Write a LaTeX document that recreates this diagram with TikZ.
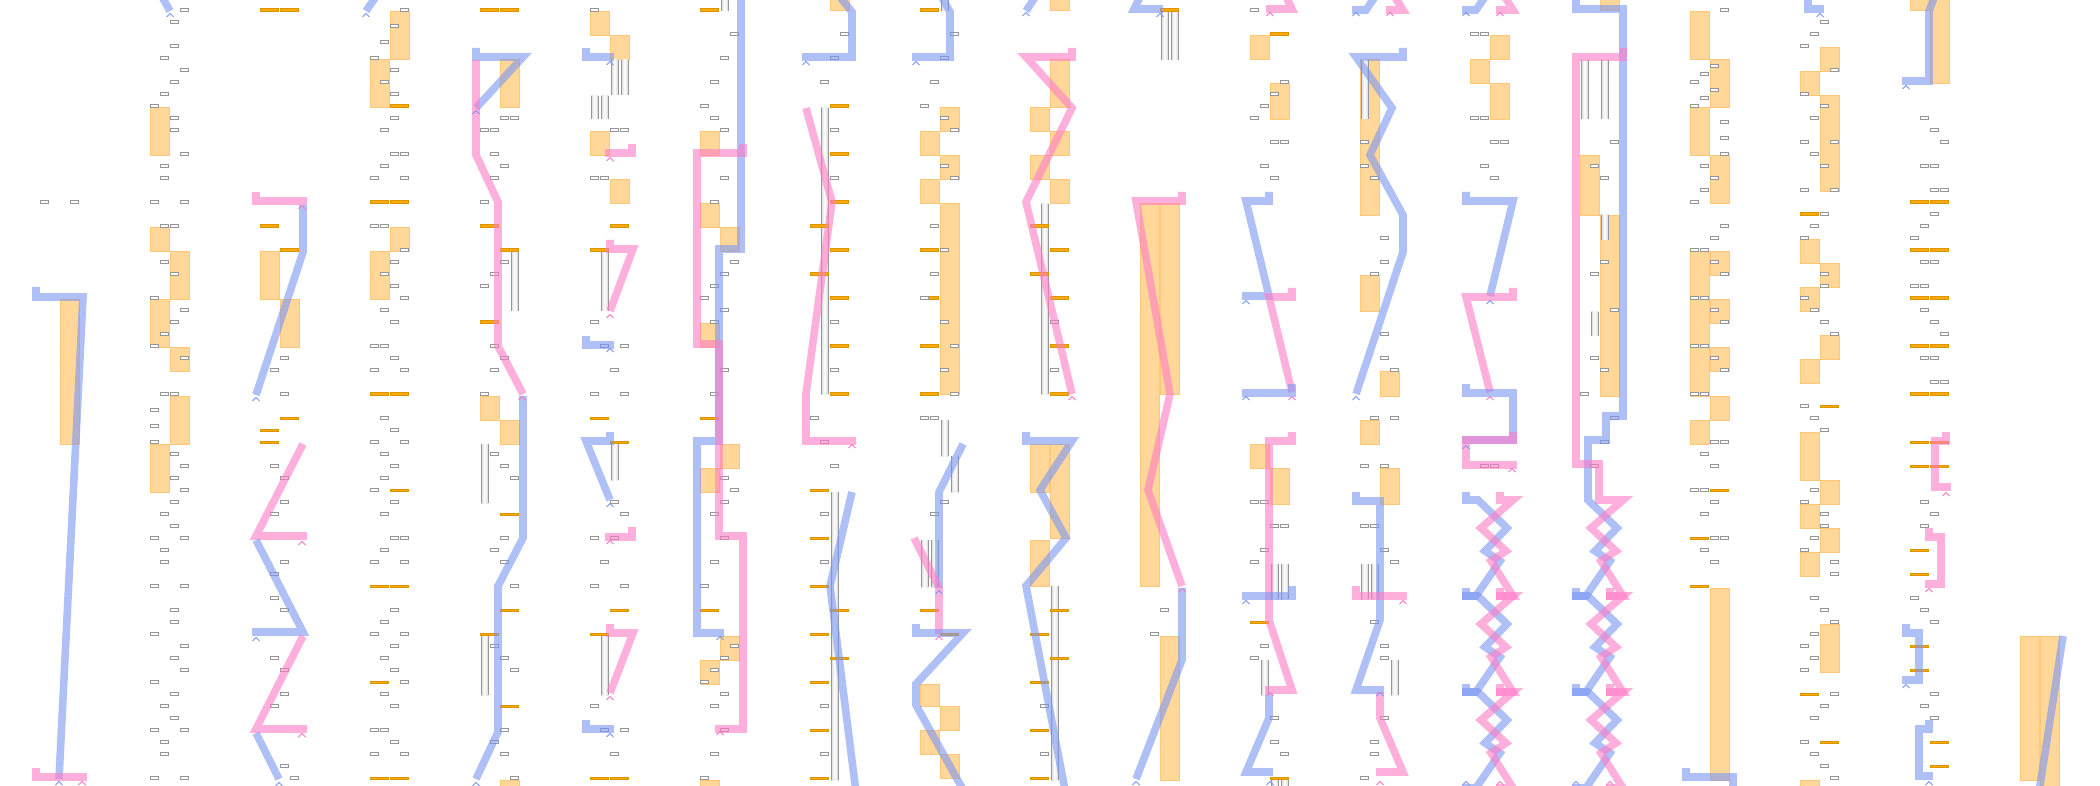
\documentclass[tikz,border=0pt]{standalone}
\definecolor{bluec}{RGB}{123,150,243}
\definecolor{pinkc}{RGB}{255,123,197}
\definecolor{bluech}{RGB}{120,150,245}
\definecolor{pinkch}{RGB}{245,120,195}
\definecolor{olfill}{RGB}{247,170,10}
\definecolor{oldraw}{RGB}{222,148,0}
\definecolor{obfill}{RGB}{255,216,153}
\definecolor{obdraw}{RGB}{255,200,120}
\definecolor{boxdraw}{RGB}{150,150,150}
\tikzset{
 boxst/.style={draw=boxdraw, fill=white, line width=0.45pt},
 olst/.style={draw=oldraw, fill=olfill, line width=0.3pt},
 obst/.style={draw=obdraw, fill=obfill, line width=0.5pt},
 gbside/.style={draw=boxdraw, line width=0.5pt},
 bp/.style={draw=bluec, line width=3.8pt, opacity=0.6, line join=miter, miter limit=4},
 pp/.style={draw=pinkc, line width=3.8pt, opacity=0.6, line join=miter, miter limit=4},
 bch/.style={draw=bluech, line width=0.5pt},
 pch/.style={draw=pinkch, line width=0.5pt},
}
\newcommand\zzb[2]{\draw[bp] (#1-4,#2)--(#1-4,#2+8)--(#1+8,#2+8)--(#1+37,#2+36)--(#1+15,#2+59)--(#1+30,#2+69)--(#1+6,#2+104)--(#1-8,#2+104);}
\newcommand\zzp[2]{\draw[pp] (#1+30,#2)--(#1+30,#2+8)--(#1+43,#2+8)--(#1+11,#2+36)--(#1+36,#2+59)--(#1+21,#2+69)--(#1+43,#2+104)--(#1+26,#2+104);}
\begin{document}
\begin{tikzpicture}[x=0.5pt,y=-0.5pt]
\useasboundingbox (0,0) rectangle (2100,786);
\fill[white] (0,0) rectangle (2100,786);
\clip (0,0) rectangle (2100,786);
% orange blocks
\foreach \x/\a/\b in {60/300/444,
150/108/156,150/228/252,170/252/300,150/300/348,170/348/372,170/396/444,150/444/492,
260/252/300,280/300/348,
390/12/60,370/60/108,390/228/252,370/252/300,
500/60/108,480/396/420,500/420/444,500/780/790,
590/12/36,610/36/60,590/132/156,610/180/204,
700/132/156,700/204/228,720/228/252,700/324/348,720/444/468,700/468/492,720/636/660,700/660/684,700/780/790,
830/-5/11,
940/108/132,920/132/156,940/156/180,920/180/204,940/204/394,920/684/706,940/706/730,920/730/754,940/754/778,
1050/-5/11,1050/60/108,1030/108/132,1050/132/156,1030/156/180,1050/180/204,1030/444/492,1050/444/538,1030/540/586,
1140/204/586,1160/204/394,1160/636/780,
1250/36/60,1270/84/120,1250/444/468,1270/468/504,
1360/60/216,1360/276/312,1380/372/396,1360/420/444,1380/468/504,
1490/36/60,1470/60/84,1490/84/120,
1600/-5/11,1580/156/216,1600/216/396,
1690/12/60,1710/60/108,1690/108/156,1710/156/204,1690/252/396,1710/252/276,1710/300/324,1710/348/372,1710/396/420,1690/420/444,1710/588/780,
1820/48/72,1800/72/96,1820/96/192,1800/240/264,1820/264/288,1800/288/312,1820/336/360,1800/360/384,1800/432/480,1820/480/504,1800/504/528,1820/528/552,1800/552/576,1820/624/672,1800/780/790,
1910/-5/11,1930/-5/84,
2020/636/780,2040/636/790}
 \draw[obst] (\x,\a) rectangle (\x+19,\b);
% grey bars
\foreach \x/\a/\b in {511/252/311,481/444/503,481/636/695,
611/60/95,621/60/95,591/96/119,601/96/119,601/250/311,611/444/480,601/636/695,
721/-5/11,821/108/394,831/492/780,
941/-5/11,941/420/456,951/456/492,921/540/587,931/540/587,
1041/204/394,1051/586/780,1161/11/60,1171/11/60,
1271/564/599,1281/564/599,1261/660/695,1271/780/790,1281/780/790,
1361/60/119,1361/564/599,1371/564/599,1391/660/695,
1581/60/119,1601/60/119,1601/215/240,1591/312/336}
 {\shade[left color=gray!30,right color=gray!30,middle color=white] (\x,\a) rectangle (\x+7,\b);
  \draw[gbside] (\x,\a) -- (\x,\b) (\x+7,\a) -- (\x+7,\b);}
% orange lines
\foreach \x/\y in {260/10,280/10,260/226,280/250,280/418,260/430,260/442,
390/106,370/202,390/202,370/394,390/394,390/490,370/586,390/586,370/682,370/778,390/778,
480/10,500/10,480/226,500/250,480/322,500/514,500/610,480/634,500/706,
610/226,590/250,590/418,610/442,610/610,590/634,590/778,610/778,
700/10,700/418,700/610,
830/106,830/154,830/202,830/250,830/298,830/346,830/394,810/226,810/274,810/490,810/538,810/586,810/634,810/682,810/730,810/778,830/610,830/658,
920/10,920/250,920/298,920/346,920/394,920/610,940/634,
1030/226,1030/274,1050/250,1050/298,1050/346,1050/394,1050/610,1050/658,1030/634,1030/682,1030/730,1030/778,
1160/10,1270/34,1250/622,1270/778,
1710/490,1690/538,1690/586,
1800/214,1820/406,1800/694,1820/742,
1910/202,1930/202,1910/250,1930/250,1910/298,1930/298,1910/346,1930/346,1910/394,1930/394,1910/442,1930/442,1910/466,1930/466,
1910/550,1910/574,1910/646,1910/670,1930/742,1930/766}
 \draw[olst] (\x,\y-1.2) rectangle (\x+18.7,\y+1.2);
% small boxes
\foreach \x/\y in {40/202,70/202,
180/10,170/22,170/46,160/58,180/70,170/82,160/94,150/106,170/118,170/130,180/154,160/166,160/178,150/202,180/202,160/226,170/226,160/262,170/274,150/298,180/310,170/322,160/334,150/346,180/358,160/394,170/394,150/410,150/426,150/442,170/454,180/466,170/478,180/490,170/502,160/514,170/526,150/538,180/538,160/550,160/562,150/586,180/586,170/610,170/622,150/634,180/646,170/658,180/670,150/682,170/694,160/706,170/718,150/730,180/730,160/742,160/754,150/778,180/778,
280/358,270/370,280/394,270/466,280/478,280/502,270/514,280/562,270/574,270/598,280/610,270/658,280/670,280/694,270/706,280/766,290/778,
390/26,380/42,370/58,390/70,380/82,390/94,390/118,380/130,390/154,380/166,370/178,370/226,380/226,390/262,380/274,390/286,380/310,390/322,370/346,380/346,390/358,370/370,380/418,390/430,370/442,380/454,390/466,380/478,370/490,390/502,380/514,390/538,380/550,370/562,390/610,380/622,370/634,390/646,380/658,390/670,380/694,390/706,370/730,380/730,390/742,370/754,
400/10,400/154,400/178,400/250,400/298,400/370,400/442,400/538,400/562,400/634,400/682,400/754,
500/118,510/118,480/130,490/130,490/154,500/166,490/178,480/202,500/262,490/274,480/286,490/346,500/358,490/370,480/394,490/454,500/466,510/478,500/538,490/550,500/562,510/586,490/646,500/658,510/670,500/730,490/742,500/754,510/778,
590/10,610/130,620/130,590/178,600/178,590/322,600/346,620/346,610/370,590/394,620/394,610/502,620/514,590/538,610/538,600/562,590/586,620/586,590/706,600/730,620/730,610/754,
730/34,720/58,710/82,700/106,710/118,720/130,720/178,710/202,730/262,720/274,710/286,700/298,720/310,710/322,720/370,710/394,720/478,730/490,720/502,710/514,720/538,710/562,700/586,730/646,720/658,710/670,700/682,720/694,710/706,720/730,710/754,700/778,
840/34,830/58,820/82,830/130,830/178,830/322,830/370,810/418,820/442,830/466,820/514,820/562,820/706,820/754,
950/34,940/58,930/82,920/106,940/118,950/130,940/166,950/178,930/226,940/250,930/274,920/298,940/322,950/346,940/370,950/394,920/418,930/418,940/502,930/514,
1050/322,1050/370,1040/706,1040/754,
1160/610,1150/634,
1250/10,1280/82,1270/94,1260/106,1250/118,1270/142,1280/142,1260/166,1270/178,1250/502,1260/502,1270/526,1280/526,1260/550,1250/562,1260/646,1250/658,1270/718,1270/742,1280/754,
1360/142,1360/166,1370/178,1380/238,1380/262,1370/274,1380/334,1380/358,1390/370,1370/418,1390/418,1360/466,1380/466,1360/526,1370/526,1380/550,1390/562,1370/622,1380/646,1380/658,1380/718,1370/742,1370/754,1360/778,
1470/34,1480/34,1470/118,1480/118,1490/142,1500/142,1480/166,1490/178,1480/466,1490/466,
1610/142,1590/166,1600/178,1600/262,1590/274,1610/310,1590/358,1600/370,1580/394,1610/418,1600/442,1590/466,
1720/10,1710/66,1700/74,1690/82,1710/90,1700/98,1690/106,1720/122,1720/138,1720/154,1700/166,1710/178,1700/190,1690/202,1720/226,1710/238,1690/250,1700/250,1710/262,1720/274,1690/298,1700/298,1710/310,1720/322,1690/346,1700/346,1710/358,1720/370,1690/394,1700/394,1710/442,1720/442,1700/454,1710/466,1690/490,1700/490,1710/502,1700/514,1710/538,1720/538,1700/550,1710/562,
1820/22,1810/34,1800/46,1830/70,1800/94,1820/106,1810/118,1800/142,1830/142,1810/154,1820/166,1800/190,1830/190,1820/214,1810/226,1800/238,1820/274,1820/286,1800/298,1810/310,1820/322,1830/334,1800/406,1810/418,1820/430,1810/490,1800/502,1820/514,1820/526,1810/538,1800/550,1830/562,1830/574,1810/598,1820/610,1830/622,1810/634,1800/646,1810/658,1800/670,1830/694,1820/706,1810/718,1800/742,1810/754,1820/766,1830/778,
1920/118,1930/130,1940/142,1920/166,1930/166,1930/190,1940/190,1930/214,1920/226,1910/238,1920/262,1930/262,1910/286,1920/286,1920/310,1930/322,1940/334,1920/358,1930/358,1930/382,1940/382,1920/502,1930/514,1920/526,1910/598,1920/610,1930/622,1930/694,1920/706,1930/718}
 \draw[boxst] (\x,\y-1.3) rectangle (\x+8.5,\y+1.3);
% ---------- paths ----------
% G0
\draw[bp] (36,287)--(36,297)--(83,297)--(59,779);
\draw[pp] (36,768)--(36,777)--(87,777);
% G1
\draw[bp] (157,-12)--(170,11);
% G2
\draw[pp] (256,192)--(256,201)--(307,201);
\draw[bp] (303,205)--(303,252)--(256,395);
\draw[pp] (303,444)--(256,536)--(307,536);
\draw[bp] (256,540)--(303,632)--(252,632);
\draw[pp] (303,636)--(256,729)--(307,729);
\draw[bp] (256,733)--(279,779);
% G3
\draw[bp] (382,-12)--(366,11);
% G4
\draw[bp] (476,48)--(476,57)--(523,57)--(476,108);
\draw[pp] (476,60)--(476,155)--(498,202)--(498,346)--(523,394);
\draw[bp] (523,396)--(523,538)--(498,586)--(498,732)--(476,779);
% G5
\draw[bp] (586,48)--(586,57)--(614,57);
\draw[pp] (632,144)--(632,153)--(605,153);
\draw[pp] (610,240)--(610,249)--(633,249)--(610,311);
\draw[bp] (586,336)--(586,345)--(614,345);
\draw[bp] (610,432)--(610,441)--(586,441)--(610,500);
\draw[pp] (632,527)--(632,537)--(605,537);
\draw[pp] (610,624)--(610,633)--(633,633)--(610,693);
\draw[bp] (586,720)--(586,729)--(614,729);
% G6
\draw[bp] (741,-5)--(741,249)--(719,249)--(719,441)--(697,441)--(697,633)--(724,633);
\draw[pp] (743,144)--(743,153)--(697,153)--(697,344)--(719,344)--(719,536)--(743,536)--(743,729)--(715,729);
% G7
\draw[bp] (836,-8)--(852,12)--(852,57)--(802,57);
\draw[pp] (806,108)--(832,202)--(806,394)--(806,441)--(856,441);
\draw[bp] (852,492)--(830,586)--(856,792);
% G8
\draw[bp] (938,-10)--(950,12)--(950,57)--(912,57);
\draw[bp] (963,444)--(939,492)--(939,588);
\draw[pp] (914,538)--(939,588)--(939,634);
\draw[bp] (916,624)--(916,633)--(963,633)--(916,684)--(916,705)--(966,795);
% G9
\draw[bp] (1040,-10)--(1026,11);
\draw[pp] (1072,48)--(1072,57)--(1026,57)--(1072,108)--(1026,202)--(1072,394);
\draw[bp] (1026,432)--(1026,441)--(1072,441)--(1040,490)--(1066,538)--(1026,586)--(1066,795);
% G10
\draw[bp] (1141,-5)--(1134,9)--(1163,9);
\draw[pp] (1182,192)--(1182,201)--(1136,201)--(1170,394)--(1148,490)--(1182,586);
\draw[bp] (1182,588)--(1182,660)--(1136,779);
% G11
\draw[pp] (1284,-8)--(1292,9)--(1266,9);
\draw[bp] (1269,192)--(1269,201)--(1246,201)--(1269,296)--(1242,296);
\draw[pp] (1292,288)--(1292,297)--(1269,297)--(1292,392);
\draw[bp] (1292,384)--(1292,393)--(1242,393);
\draw[pp] (1292,432)--(1292,441)--(1269,441)--(1269,620)--(1292,690)--(1265,690);
\draw[bp] (1292,586)--(1292,596)--(1242,596);
\draw[bp] (1269,694)--(1269,718)--(1246,772)--(1273,772);
% G12
\zzb{1360}{-94}\zzp{1360}{-94}
\draw[bp] (1403,48)--(1403,57)--(1356,57)--(1392,108)--(1370,155)--(1403,215)--(1403,252)--(1356,394);
\draw[bp] (1356,492)--(1356,501)--(1380,501)--(1380,620)--(1356,690)--(1384,690);
\draw[pp] (1356,586)--(1356,596)--(1407,596);
\draw[pp] (1380,692)--(1380,718)--(1403,772)--(1376,772);
% G13
\zzb{1470}{-94}\zzp{1470}{-94}
\draw[bp] (1466,192)--(1466,201)--(1513,201)--(1490,296);
\draw[pp] (1513,288)--(1513,297)--(1466,297)--(1490,392);
\draw[bp] (1466,384)--(1466,393)--(1513,393)--(1513,440)--(1462,440);
\draw[pp] (1513,432)--(1513,440)--(1466,440)--(1466,465)--(1517,465);
\zzb{1470}{492}\zzp{1470}{492}
\zzb{1470}{588}\zzp{1470}{588}
\zzb{1470}{684}\zzp{1470}{684}
% G14
\draw[bp] (1576,-5)--(1576,9)--(1623,9)--(1623,416)--(1606,416)--(1606,440)--(1588,440)--(1588,500)--(1617,528)--(1595,551)--(1610,561)--(1586,596)--(1572,596);
\draw[pp] (1623,48)--(1623,57)--(1576,57)--(1576,464)--(1599,464)--(1599,500)--(1623,500)--(1591,528)--(1616,551)--(1601,561)--(1623,596)--(1606,596);
\zzb{1580}{588}\zzp{1580}{588}
\zzb{1580}{684}\zzp{1580}{684}
% G15
\draw[bp] (1686,768)--(1686,777)--(1733,777)--(1733,792);
% G16
\draw[bp] (1808,-5)--(1808,9)--(1824,9);
% G17
\draw[bp] (1937,-10)--(1929,11)--(1929,81)--(1902,81);
\draw[pp] (1946,432)--(1946,441)--(1935,441)--(1935,487)--(1951,487);
\draw[pp] (1929,528)--(1929,537)--(1941,537)--(1941,584)--(1925,584);
\draw[bp] (1906,624)--(1906,633)--(1919,633)--(1919,680)--(1902,680);
\draw[bp] (1929,720)--(1929,729)--(1919,729)--(1919,776)--(1933,776);
% G18
\draw[bp] (2063,636)--(2039,792);
% ---------- chevrons ----------
\foreach \x/\y in {59/783,170/15,256/399,256/639,279/784,366/15,476/112,476/784,610/63,610/350,610/505,610/735,720/638,806/63,916/63,939/592,1026/14,1160/15,1136/783,1246/302,1246/398,1246/602,1270/783,1356/14,1356/398,1380/694,1466/14,1490/302,1466/447,1466/783,1576/783,1820/15,1906/87,1906/686,1929/783}
 \draw[bch] (\x-3.5,\y+2)--(\x,\y-1.5)--(\x+3.5,\y+2);
\foreach \x/\y in {82/783,302/207,302/543,302/735,522/398,610/159,610/316,610/542,610/698,720/733,852/446,939/638,1072/398,1182/590,1270/14,1292/398,1270/694,1390/14,1403/602,1380/783,1500/14,1490/398,1512/470,1500/783,1610/783,1946/494,1929/590}
 \draw[pch] (\x-3.5,\y+2)--(\x,\y-1.5)--(\x+3.5,\y+2);
\end{tikzpicture}
\end{document}
